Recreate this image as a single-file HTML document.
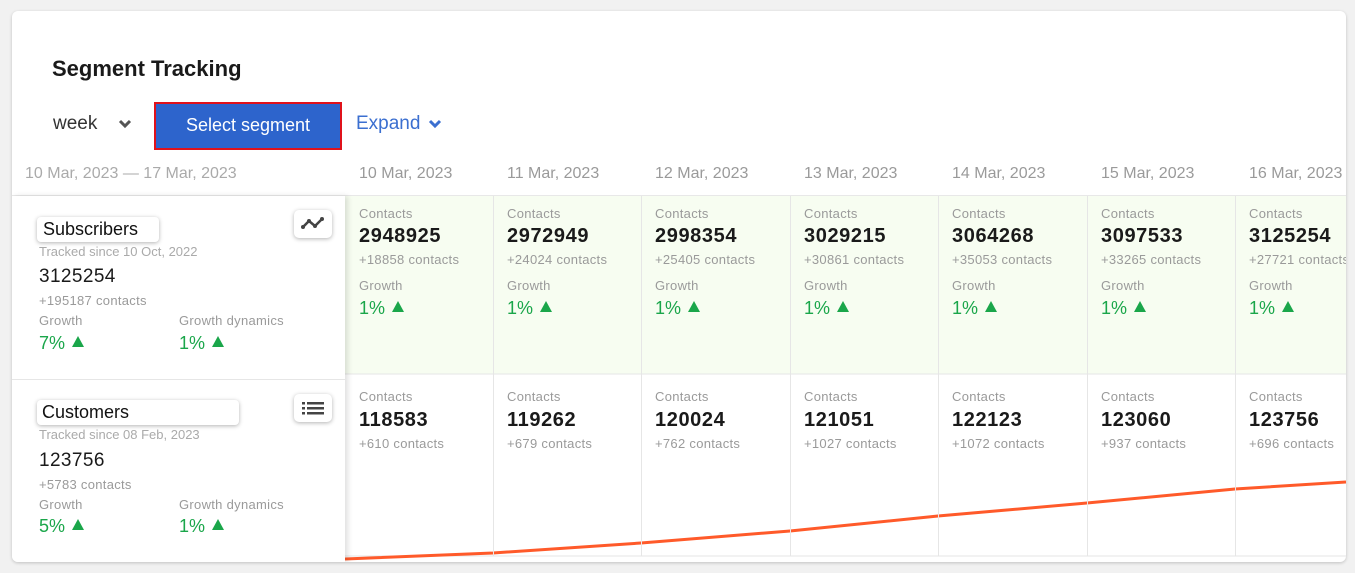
<!DOCTYPE html>
<html><head><style>
*{margin:0;padding:0;box-sizing:border-box}
body{width:1355px;height:573px;background:#f1f1f1;font-family:"Liberation Sans",Roboto,sans-serif;position:relative;overflow:hidden}
.card{position:absolute;left:12px;top:11px;width:1334px;height:551px;background:#fff;border-radius:6px;box-shadow:0 1px 3px rgba(0,0,0,.2);overflow:hidden}
.a{position:absolute;white-space:nowrap}
.g{color:#9a9a9a;letter-spacing:.3px}
.n{font-size:20px;font-weight:bold;color:#1a1a1a;letter-spacing:.6px}
.grn{color:#1aa64a}
.tri{display:inline-block;width:0;height:0;border-left:6px solid transparent;border-right:6px solid transparent;border-bottom:11px solid #1aa64a;margin-left:7px;vertical-align:2px}
.col{position:absolute;width:149px;border-left:1px solid #e6e6e6}
</style></head><body>
<div class="card">
<div class="a" style="left:40px;top:45px;font-size:22px;font-weight:bold;color:#1a1a1a">Segment Tracking</div>
<div class="a" style="left:41px;top:102px;font-size:19px;color:#333">week</div>
<svg class="a" style="left:106px;top:108px" width="14" height="10"><path d="M2 2 L7 7 L12 2" stroke="#555" stroke-width="3" fill="none"/></svg>
<div class="a" style="left:142px;top:91px;width:188px;height:48px;background:#2d64cc;border:2px solid #e0121b;color:#fff;font-size:18px;text-align:center;line-height:42px">Select segment</div>
<div class="a" style="left:344px;top:102px;font-size:19px;color:#3b6fd0">Expand</div>
<svg class="a" style="left:416px;top:108px" width="14" height="10"><path d="M2 2 L7 7 L12 2" stroke="#3b6fd0" stroke-width="3" fill="none"/></svg>
<div class="a" style="left:13px;top:154px;font-size:16px;color:#aaa">10 Mar, 2023 — 17 Mar, 2023</div>
<div class="a" style="left:0;top:184px;width:1334px;border-top:1px solid #e8e8e8"></div>
<div class="a" style="left:333px;top:185px;width:1001px;height:178px;background:#f7fdf1"></div>
<svg class="a" style="left:333px;top:185px" width="1001" height="366">
<line x1="0" y1="178" x2="1001" y2="178" stroke="#e6e6e6"/>
<line x1="0" y1="360" x2="1001" y2="360" stroke="#e6e6e6"/>
<path d="M0 363 L148 357 L296 347 L445 335 L593 320 L742 307 L890 293 L1001 286" stroke="#ff5a2a" stroke-width="3" fill="none"/>
</svg>
<div class="a" style="left:0;top:185px;width:333px;height:366px;background:#fff;box-shadow:3px 0 5px rgba(0,0,0,.12)">
 <div class="a" style="left:0;top:183px;width:333px;border-top:1px solid #e6e6e6"></div>
 <div class="a" style="left:25px;top:21px;width:122px;height:25px;border-radius:4px;box-shadow:0 1px 4px rgba(0,0,0,.3);font-size:18px;padding-left:6px;line-height:25px;color:#111">Subscribers</div>
 <div class="a" style="left:282px;top:14px;width:38px;height:28px;border-radius:5px;box-shadow:0 1px 4px rgba(0,0,0,.3)"><svg width="38" height="28"><path d="M9 17 L15 11 L21 16 L28 9" stroke="#444" stroke-width="2.5" fill="none"/><circle cx="9" cy="17" r="2" fill="#444"/><circle cx="15" cy="11" r="2" fill="#444"/><circle cx="21" cy="16" r="2" fill="#444"/><circle cx="28" cy="9" r="2" fill="#444"/></svg></div>
 <div class="a" style="left:27px;top:48px;font-size:13px;color:#aaa">Tracked since 10 Oct, 2022</div>
 <div class="a" style="left:27px;top:70px;font-size:19px;color:#1a1a1a;letter-spacing:.4px">3125254</div>
 <div class="a g" style="left:27px;top:97px;font-size:13px">+195187 contacts</div>
 <div class="a g" style="left:27px;top:117px;font-size:13px">Growth</div>
 <div class="a g" style="left:167px;top:117px;font-size:13px">Growth dynamics</div>
 <div class="a grn" style="left:27px;top:137px;font-size:18px">7%<span class="tri"></span></div>
 <div class="a grn" style="left:167px;top:137px;font-size:18px">1%<span class="tri"></span></div>
 <div class="a" style="left:25px;top:204px;width:202px;height:25px;border-radius:4px;box-shadow:0 1px 4px rgba(0,0,0,.3);font-size:18px;padding-left:5px;line-height:25px;color:#111">Customers</div>
 <div class="a" style="left:282px;top:198px;width:38px;height:28px;border-radius:5px;box-shadow:0 1px 4px rgba(0,0,0,.3)"><svg width="38" height="28"><g fill="#444"><rect x="8" y="8" width="3" height="2.5"/><rect x="13" y="8" width="17" height="2.5"/><rect x="8" y="13" width="3" height="2.5"/><rect x="13" y="13" width="17" height="2.5"/><rect x="8" y="18" width="3" height="2.5"/><rect x="13" y="18" width="17" height="2.5"/></g></svg></div>
 <div class="a" style="left:27px;top:231px;font-size:13px;color:#aaa">Tracked since 08 Feb, 2023</div>
 <div class="a" style="left:27px;top:254px;font-size:19px;color:#1a1a1a;letter-spacing:.4px">123756</div>
 <div class="a g" style="left:27px;top:281px;font-size:13px">+5783 contacts</div>
 <div class="a g" style="left:27px;top:301px;font-size:13px">Growth</div>
 <div class="a g" style="left:167px;top:301px;font-size:13px">Growth dynamics</div>
 <div class="a grn" style="left:27px;top:320px;font-size:18px">5%<span class="tri"></span></div>
 <div class="a grn" style="left:167px;top:320px;font-size:18px">1%<span class="tri"></span></div>
</div>
<div class="col" style="left:481px;top:185px;height:360px"></div>
<div class="col" style="left:629px;top:185px;height:360px"></div>
<div class="col" style="left:778px;top:185px;height:360px"></div>
<div class="col" style="left:926px;top:185px;height:360px"></div>
<div class="col" style="left:1075px;top:185px;height:360px"></div>
<div class="col" style="left:1223px;top:185px;height:360px"></div>
<div class="a" style="left:347px;top:154px;font-size:16px;color:#9a9a9a">10 Mar, 2023</div>
<div class="a" style="left:495px;top:154px;font-size:16px;color:#9a9a9a">11 Mar, 2023</div>
<div class="a" style="left:643px;top:154px;font-size:16px;color:#9a9a9a">12 Mar, 2023</div>
<div class="a" style="left:792px;top:154px;font-size:16px;color:#9a9a9a">13 Mar, 2023</div>
<div class="a" style="left:940px;top:154px;font-size:16px;color:#9a9a9a">14 Mar, 2023</div>
<div class="a" style="left:1089px;top:154px;font-size:16px;color:#9a9a9a">15 Mar, 2023</div>
<div class="a" style="left:1237px;top:154px;font-size:16px;color:#9a9a9a">16 Mar, 2023</div>

<div class="a g" style="left:347px;top:195px;font-size:13px">Contacts</div><div class="a n" style="left:347px;top:214px">2948925</div><div class="a g" style="left:347px;top:241px;font-size:13px">+18858 contacts</div><div class="a g" style="left:347px;top:267px;font-size:13px">Growth</div><div class="a grn" style="left:347px;top:287px;font-size:18px">1%<span class="tri"></span></div>
<div class="a g" style="left:495px;top:195px;font-size:13px">Contacts</div><div class="a n" style="left:495px;top:214px">2972949</div><div class="a g" style="left:495px;top:241px;font-size:13px">+24024 contacts</div><div class="a g" style="left:495px;top:267px;font-size:13px">Growth</div><div class="a grn" style="left:495px;top:287px;font-size:18px">1%<span class="tri"></span></div>
<div class="a g" style="left:643px;top:195px;font-size:13px">Contacts</div><div class="a n" style="left:643px;top:214px">2998354</div><div class="a g" style="left:643px;top:241px;font-size:13px">+25405 contacts</div><div class="a g" style="left:643px;top:267px;font-size:13px">Growth</div><div class="a grn" style="left:643px;top:287px;font-size:18px">1%<span class="tri"></span></div>
<div class="a g" style="left:792px;top:195px;font-size:13px">Contacts</div><div class="a n" style="left:792px;top:214px">3029215</div><div class="a g" style="left:792px;top:241px;font-size:13px">+30861 contacts</div><div class="a g" style="left:792px;top:267px;font-size:13px">Growth</div><div class="a grn" style="left:792px;top:287px;font-size:18px">1%<span class="tri"></span></div>
<div class="a g" style="left:940px;top:195px;font-size:13px">Contacts</div><div class="a n" style="left:940px;top:214px">3064268</div><div class="a g" style="left:940px;top:241px;font-size:13px">+35053 contacts</div><div class="a g" style="left:940px;top:267px;font-size:13px">Growth</div><div class="a grn" style="left:940px;top:287px;font-size:18px">1%<span class="tri"></span></div>
<div class="a g" style="left:1089px;top:195px;font-size:13px">Contacts</div><div class="a n" style="left:1089px;top:214px">3097533</div><div class="a g" style="left:1089px;top:241px;font-size:13px">+33265 contacts</div><div class="a g" style="left:1089px;top:267px;font-size:13px">Growth</div><div class="a grn" style="left:1089px;top:287px;font-size:18px">1%<span class="tri"></span></div>
<div class="a g" style="left:1237px;top:195px;font-size:13px">Contacts</div><div class="a n" style="left:1237px;top:214px">3125254</div><div class="a g" style="left:1237px;top:241px;font-size:13px">+27721 contacts</div><div class="a g" style="left:1237px;top:267px;font-size:13px">Growth</div><div class="a grn" style="left:1237px;top:287px;font-size:18px">1%<span class="tri"></span></div>

<div class="a g" style="left:347px;top:378px;font-size:13px">Contacts</div><div class="a n" style="left:347px;top:398px">118583</div><div class="a g" style="left:347px;top:425px;font-size:13px">+610 contacts</div>
<div class="a g" style="left:495px;top:378px;font-size:13px">Contacts</div><div class="a n" style="left:495px;top:398px">119262</div><div class="a g" style="left:495px;top:425px;font-size:13px">+679 contacts</div>
<div class="a g" style="left:643px;top:378px;font-size:13px">Contacts</div><div class="a n" style="left:643px;top:398px">120024</div><div class="a g" style="left:643px;top:425px;font-size:13px">+762 contacts</div>
<div class="a g" style="left:792px;top:378px;font-size:13px">Contacts</div><div class="a n" style="left:792px;top:398px">121051</div><div class="a g" style="left:792px;top:425px;font-size:13px">+1027 contacts</div>
<div class="a g" style="left:940px;top:378px;font-size:13px">Contacts</div><div class="a n" style="left:940px;top:398px">122123</div><div class="a g" style="left:940px;top:425px;font-size:13px">+1072 contacts</div>
<div class="a g" style="left:1089px;top:378px;font-size:13px">Contacts</div><div class="a n" style="left:1089px;top:398px">123060</div><div class="a g" style="left:1089px;top:425px;font-size:13px">+937 contacts</div>
<div class="a g" style="left:1237px;top:378px;font-size:13px">Contacts</div><div class="a n" style="left:1237px;top:398px">123756</div><div class="a g" style="left:1237px;top:425px;font-size:13px">+696 contacts</div>
</div>
</body></html>
